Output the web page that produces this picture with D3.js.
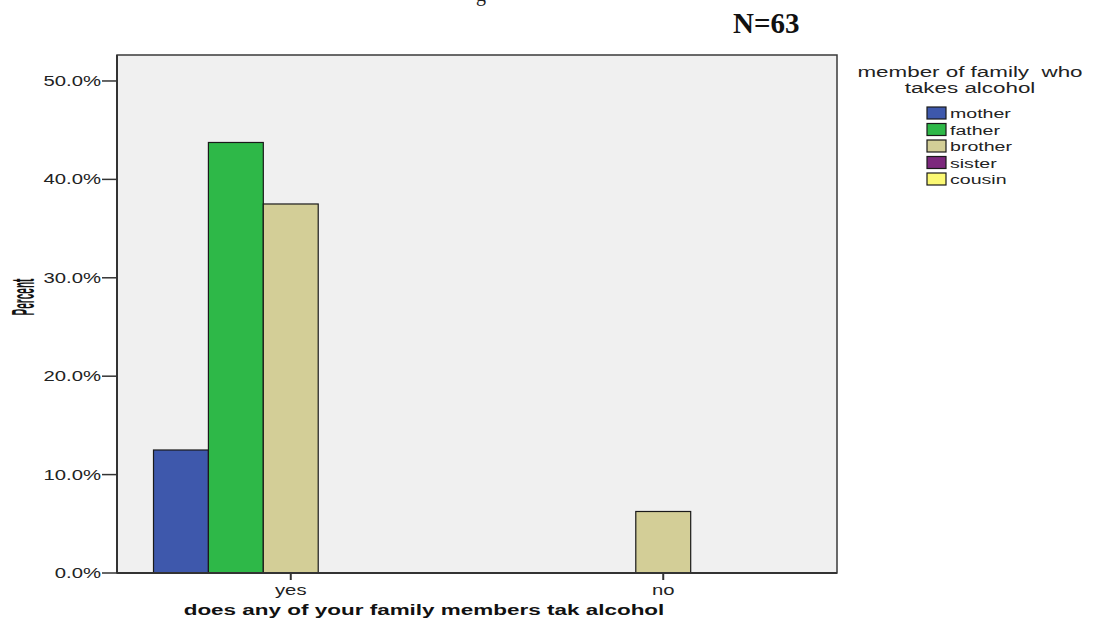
<!DOCTYPE html>
<html lang="en">
<head>
    <meta charset="UTF-8">
    <title>family members alcohol</title>
    <script src="https://d3js.org/d3.v7.min.js"></script>
    <style>
        body { margin: 0; background: #fff; }
        text { font-family: "Liberation Sans", Arial, sans-serif; fill: #222; white-space: pre; }
    </style>
</head>
<body>
<script>
    // data
    let groups = ["yes", "no"];
    let members = ["mother", "father", "brother", "sister", "cousin"];
    let yesValues = [0.125, 0.4375, 0.375, 0, 0];
    let noValues = [0, 0, 0.0625, 0, 0];
    let colors = ["#3e58ac", "#2eb848", "#d3ce97", "#7c287d", "#fbf873"];
    let yTicks = [0, 0.1, 0.2, 0.3, 0.4, 0.5];

    let rows = [];
    groups.forEach(function (g, gi) {
        let vals = gi == 0 ? yesValues : noValues;
        members.forEach(function (m, mi) {
            rows.push({group: g, member: m, value: vals[mi]});
        });
    });

    const SX = 1.45; // the chart picture is stretched sideways
    let W = 1094, H = 631;
    let pLeft = 117, pRight = 837, pTop = 55, pBottom = 573;

    let svg = d3.select("body").append("svg")
        .attr("width", W)
        .attr("height", H);

    function stext(x, y, str, anchor, size, weight, sx) {
        return svg.append("g")
            .attr("transform", `translate(${x},${y}) scale(${sx || SX},1)`)
            .append("text")
            .attr("text-anchor", anchor)
            .style("font-size", size + "px")
            .style("font-weight", weight || "normal")
            .text(str);
    }

    // cut caption line at the very top
    svg.append("text")
        .attr("x", 476).attr("y", 1)
        .style("font-family", "'Liberation Serif', 'Times New Roman', serif")
        .style("font-size", "20px")
        .text("g");

    svg.append("text")
        .attr("x", 733).attr("y", 33)
        .style("font-family", "'Liberation Serif', 'Times New Roman', serif")
        .style("font-size", "29px")
        .style("font-weight", "bold")
        .style("fill", "#111")
        .text("N=63");

    let x = d3.scaleBand()
        .domain(groups)
        .range([pLeft, pRight])
        .paddingInner(0.263)
        .paddingOuter(0.098);

    let xm = d3.scaleBand()
        .domain(members)
        .range([0, x.bandwidth()]);

    let y = d3.scaleLinear()
        .domain([0, 0.5264])
        .range([pBottom, pTop]);

    // plot area
    svg.append("rect")
        .attr("x", pLeft).attr("y", pTop)
        .attr("width", pRight - pLeft).attr("height", pBottom - pTop)
        .style("fill", "#f0f0f0")
        .style("stroke", "#3a3a3a")
        .style("stroke-width", 1.5);

    // bars
    let bars = rows.filter(function (d) { return d.value > 0; });
    svg.selectAll("rect.bar").data(bars)
        .enter()
        .append("rect")
        .attr("class", "bar")
        .attr("x", function (d) { return x(d.group) + xm(d.member); })
        .attr("y", function (d) { return y(d.value); })
        .attr("width", xm.bandwidth())
        .attr("height", function (d) { return y(0) - y(d.value); })
        .style("fill", function (d) { return colors[members.indexOf(d.member)]; })
        .style("stroke", "#1a1a1a")
        .style("stroke-width", 1.2);

    // empty bars only leave a line on the base
    let zeros = rows.filter(function (d) { return d.value == 0; });
    svg.selectAll("line.zero").data(zeros)
        .enter()
        .append("line")
        .attr("class", "zero")
        .attr("x1", function (d) { return x(d.group) + xm(d.member); })
        .attr("x2", function (d) { return x(d.group) + xm(d.member) + xm.bandwidth(); })
        .attr("y1", y(0)).attr("y2", y(0))
        .style("stroke", "#111")
        .style("stroke-width", 2);

    // y axis
    let yAxis = svg.append("g").attr("transform", `translate(${pLeft},0)`);
    yAxis.append("line")
        .attr("x1", 0).attr("x2", 0).attr("y1", pTop).attr("y2", pBottom)
        .style("stroke", "#333").style("stroke-width", 2);
    yTicks.forEach(function (t) {
        yAxis.append("line")
            .attr("x1", -15).attr("x2", 0)
            .attr("y1", y(t)).attr("y2", y(t))
            .style("stroke", "#333").style("stroke-width", 1.5);
        stext(pLeft - 16, y(t) + 5, d3.format(".1%")(t), "end", 14);
    });

    // x axis
    svg.append("line")
        .attr("x1", pLeft).attr("x2", pRight).attr("y1", pBottom).attr("y2", pBottom)
        .style("stroke", "#333").style("stroke-width", 2);
    groups.forEach(function (g) {
        let cx = x(g) + x.bandwidth() / 2;
        svg.append("line")
            .attr("x1", cx).attr("x2", cx).attr("y1", pBottom).attr("y2", pBottom + 7)
            .style("stroke", "#333").style("stroke-width", 2);
        stext(cx, 595, g, "middle", 14);
    });

    stext(424, 615, "does any of your family members tak alcohol", "middle", 15.5, "bold")
        .style("fill", "#111");

    svg.append("g")
        .attr("transform", "translate(34,297) rotate(-90) scale(0.67,2.1)")
        .append("text")
        .attr("text-anchor", "middle")
        .style("font-size", "15px")
        .style("font-weight", "bold")
        .style("fill", "#111")
        .text("Percent");

    // legend
    stext(970, 77, "member of family  who", "middle", 14, "normal", 1.6);
    stext(970, 93, "takes alcohol", "middle", 14, "normal", 1.6);
    members.forEach(function (m, i) {
        let cy = 113 + i * 16.5;
        svg.append("rect")
            .attr("x", 927).attr("y", cy - 6)
            .attr("width", 19).attr("height", 12)
            .style("fill", colors[i])
            .style("stroke", "#1a1a1a")
            .style("stroke-width", 1.2);
        stext(950, cy + 5, m, "start", 13.5);
    });
</script>
</body>
</html>
